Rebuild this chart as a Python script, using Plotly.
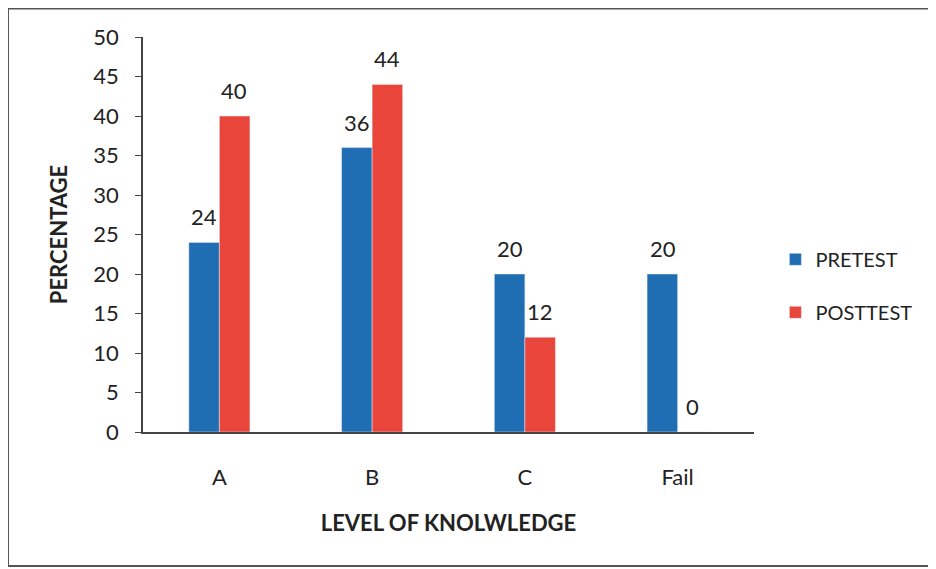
import plotly.graph_objects as go

levels = ['A', 'B', 'C', 'Fail']
pretest = [24, 36, 20, 20]
posttest = [40, 44, 12, 0]

BLUE = '#1F6DB2'
RED = '#E9453B'
FONT = 'Lato, Open Sans, sans-serif'

fig = go.Figure()
fig.add_trace(go.Bar(x=levels, y=pretest, name='PRETEST', marker_color=BLUE,
                     legendgroup='pre'))
fig.add_trace(go.Bar(x=levels, y=posttest, name='POSTTEST', marker_color=RED,
                     legendgroup='post'))

# value labels above each bar (shifted to sit over the left / right bar)
for vals, shift in ((pretest, -15), (posttest, 15)):
    for lvl, v in zip(levels, vals):
        fig.add_annotation(x=lvl, y=v, text=str(v), showarrow=False,
                           xshift=shift, yshift=10, yanchor='bottom',
                           font=dict(size=22, color='#222'))

# outer frame around the whole chart (runs off the right edge)
fig.add_shape(type='rect', xref='paper', yref='paper',
              x0=-0.221, x1=1.36, y0=-0.339, y1=1.072,
              line=dict(color='#555', width=2))

fig.update_layout(
    width=928, height=561,
    margin=dict(l=135, r=182, t=29, b=137),
    paper_bgcolor='white', plot_bgcolor='white',
    font=dict(family=FONT, size=22, color='#222'),
    barmode='group', bargap=0.6, bargroupgap=0,
    showlegend=True,
    legend=dict(x=1.035, y=0.37, yanchor='middle', xanchor='left',
                font=dict(size=20), itemwidth=30, tracegroupgap=24),
    xaxis=dict(
        showline=True, linecolor='#444', linewidth=1.5,
        ticks='', showgrid=False, ticklabelstandoff=25,
        title=dict(text='<b>LEVEL OF KNOLWLEDGE</b>', font=dict(size=22), standoff=26),
    ),
    yaxis=dict(
        range=[0, 50], dtick=5,
        showline=True, linecolor='#444', linewidth=1.5,
        ticks='outside', ticklen=6, tickcolor='#444', showgrid=False,
        ticklabelstandoff=12,
        title=dict(text='<b>PERCENTAGE</b>', font=dict(size=22), standoff=20),
    ),
)

fig.write_html('out.html')
